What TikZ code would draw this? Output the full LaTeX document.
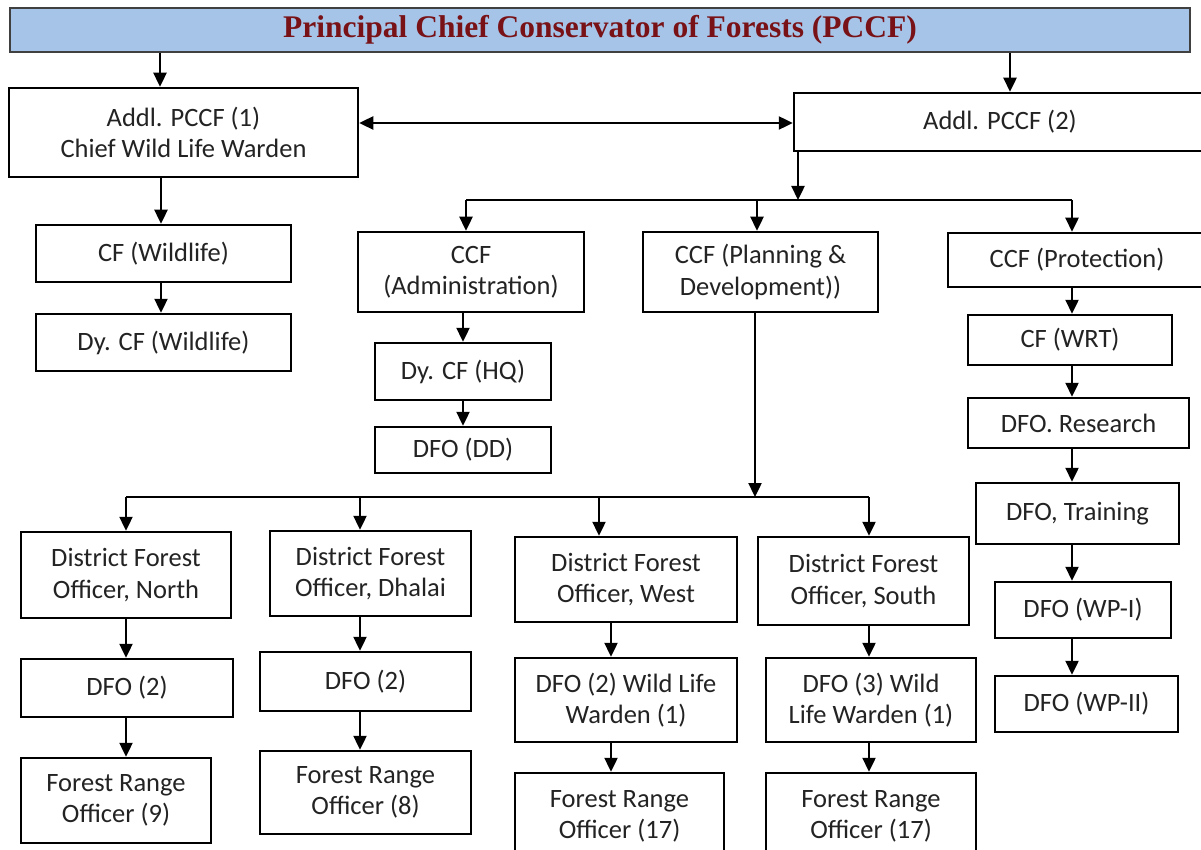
\documentclass[tikz,border=0pt]{standalone}
\usepackage{fontspec}
\setmainfont{Carlito}
\newfontfamily\titlefont{Liberation Serif}
\usetikzlibrary{arrows.meta}
\definecolor{titlered}{RGB}{120,18,22}
\definecolor{barblue}{RGB}{166,196,232}
\definecolor{inkgray}{RGB}{35,35,35}
\tikzset{
  box/.style={draw=black, line width=2.5pt, fill=white, align=center, inner sep=2pt,
     text=inkgray, font=\fontsize{26.5}{31.5}\selectfont},
  arr/.style={line width=2.4pt, -{Triangle[length=14pt,width=13pt]}},
  dblarr/.style={line width=2.4pt, {Triangle[length=14pt,width=13pt]}-{Triangle[length=14pt,width=13pt]}},
  plain/.style={line width=2.4pt},
}
\newcommand{\bx}[6]{\node[box, minimum width=#4pt, minimum height=#5pt] (#1) at (#2,#3) {#6};}
\begin{document}
\begin{tikzpicture}[x=1pt,y=-1pt]
\useasboundingbox (0,0) rectangle (1201,850);
\clip (0,0) rectangle (1201,850);
\fill[white] (0,0) rectangle (1201,850);
% title
\node[draw=black!75, line width=2pt, fill=barblue, minimum width=1180pt, minimum height=44pt,
  text=titlered, font=\titlefont\bfseries\fontsize{31.5}{34}\selectfont] (pccf) at (600,30)
  {Principal Chief Conservator of Forests (PCCF)};
% boxes
\bx{a1}{183.5}{132.5}{349}{89}{Addl. PCCF (1)\\Chief Wild Life Warden}
\bx{a2}{1000}{122}{412}{58}{Addl. PCCF (2)}
\bx{cfw}{163.5}{253.5}{255}{57}{CF (Wildlife)}
\bx{dycfw}{163.5}{342.5}{255}{57}{Dy. CF (Wildlife)}
\bx{ccfa}{471}{272}{226}{80}{CCF\\(Administration)}
\bx{ccfpd}{760.5}{272}{235}{80}{CCF (Planning \&\\Development))}
\bx{ccfp}{1077}{260}{258}{54}{CCF (Protection)}
\bx{dycfhq}{463}{371.5}{176}{57}{Dy. CF (HQ)}
\bx{dfodd}{463}{450}{176}{46}{DFO (DD)}
\bx{cfwrt}{1070}{340}{204}{50}{CF (WRT)}
\bx{dfor}{1078.5}{423}{221}{50}{DFO. Research}
\bx{dfot}{1077.5}{513.5}{203}{61}{DFO, Training}
\bx{wp1}{1083}{610}{176}{56}{DFO (WP-I)}
\bx{wp2}{1086.5}{704}{183}{56}{DFO (WP-II)}
\bx{dn}{126}{575}{210}{86}{District Forest\\Officer, North}
\bx{dd}{370.5}{573.5}{201}{85}{District Forest\\Officer, Dhalai}
\bx{dw}{626}{579.5}{222}{85}{District Forest\\Officer, West}
\bx{ds}{863.5}{581}{211}{88}{District Forest\\Officer, South}
\bx{n2}{127}{688}{212}{58}{DFO (2)}
\bx{d2}{365.5}{681.5}{211}{59}{DFO (2)}
\bx{w2}{626}{700}{222}{84}{DFO (2) Wild Life\\Warden (1)}
\bx{s3}{871}{700}{210}{84}{DFO (3) Wild\\Life Warden (1)}
\bx{fn}{116}{800.5}{190}{85}{Forest Range\\Officer (9)}
\bx{fd}{365.5}{792.5}{211}{83}{Forest Range\\Officer (8)}
\bx{fw}{619.5}{816.5}{209}{87}{Forest Range\\Officer (17)}
\bx{fs}{871}{816.5}{210}{87}{Forest Range\\Officer (17)}
% helper coordinates
\coordinate (xa) at (160,0);
\coordinate (xb) at (1010,0);
\coordinate (xc) at (161,0);
\coordinate (ya) at (0,123);
\coordinate (xd) at (798,0);
\coordinate (j1) at (798,200);
\coordinate (j1l) at (466,200);
\coordinate (j1m) at (757,200);
\coordinate (j1r) at (1072,200);
\coordinate (xe) at (463,0);
\coordinate (xp) at (1072,0);
\coordinate (xf) at (755,0);
\coordinate (j2) at (755,497);
\coordinate (j2a) at (126,497);
\coordinate (j2b) at (360,497);
\coordinate (j2c) at (599,497);
\coordinate (j2d) at (869,497);
\coordinate (xg) at (611,0);
% connectors
\draw[arr] (pccf.south -| xa) -- (a1.north -| xa);
\draw[arr] (pccf.south -| xb) -- (a2.north -| xb);
\draw[dblarr] (a1.east |- ya) -- (a2.west |- ya);
\draw[arr] (a1.south -| xc) -- (cfw.north -| xc);
\draw[arr] (cfw.south -| xc) -- (dycfw.north -| xc);
\draw[arr] (a2.south -| xd) -- (j1);
\draw[plain] (j1l) -- (j1r);
\draw[arr] (j1l) -- (ccfa.north -| j1l);
\draw[arr] (j1m) -- (ccfpd.north -| j1m);
\draw[arr] (j1r) -- (ccfp.north -| j1r);
\draw[arr] (ccfa.south -| xe) -- (dycfhq.north -| xe);
\draw[arr] (dycfhq.south -| xe) -- (dfodd.north -| xe);
\draw[arr] (ccfp.south -| xp) -- (cfwrt.north -| xp);
\draw[arr] (cfwrt.south -| xp) -- (dfor.north -| xp);
\draw[arr] (dfor.south -| xp) -- (dfot.north -| xp);
\draw[arr] (dfot.south -| xp) -- (wp1.north -| xp);
\draw[arr] (wp1.south -| xp) -- (wp2.north -| xp);
\draw[arr] (ccfpd.south -| xf) -- (j2);
\draw[plain] (j2a) -- (j2d);
\draw[arr] (j2a) -- (dn.north -| j2a);
\draw[arr] (j2b) -- (dd.north -| j2b);
\draw[arr] (j2c) -- (dw.north -| j2c);
\draw[arr] (j2d) -- (ds.north -| j2d);
\draw[arr] (dn.south -| j2a) -- (n2.north -| j2a);
\draw[arr] (n2.south -| j2a) -- (fn.north -| j2a);
\draw[arr] (dd.south -| j2b) -- (d2.north -| j2b);
\draw[arr] (d2.south -| j2b) -- (fd.north -| j2b);
\draw[arr] (dw.south -| xg) -- (w2.north -| xg);
\draw[arr] (w2.south -| xg) -- (fw.north -| xg);
\draw[arr] (ds.south -| j2d) -- (s3.north -| j2d);
\draw[arr] (s3.south -| j2d) -- (fs.north -| j2d);
\end{tikzpicture}
\end{document}
